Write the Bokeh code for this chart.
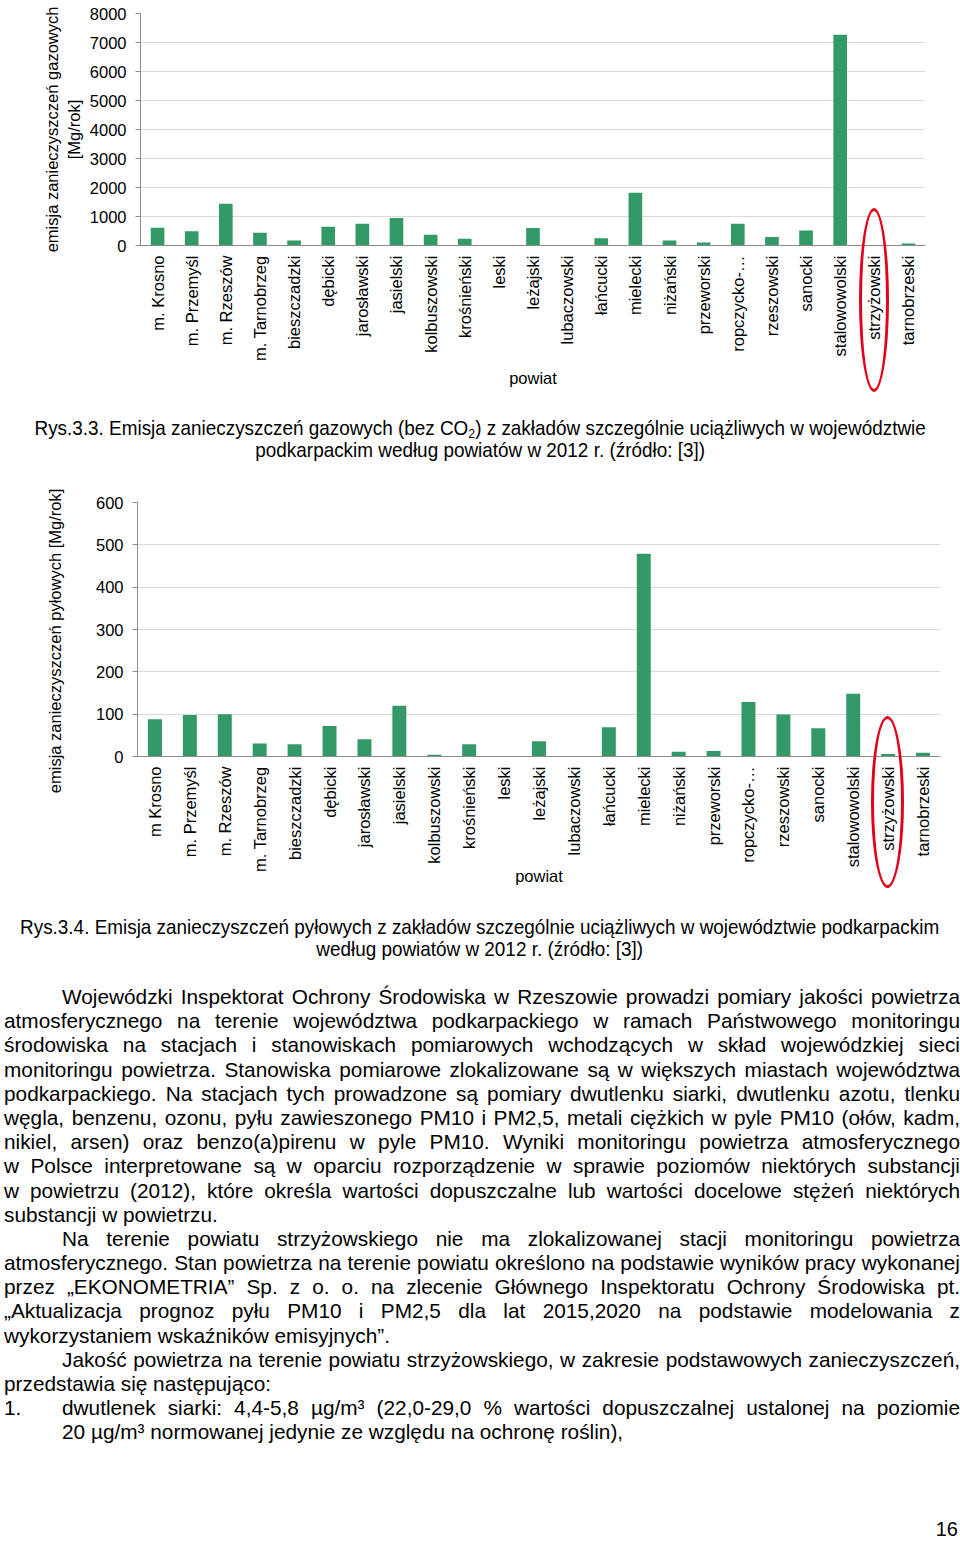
import numpy as np
from bokeh.plotting import figure
from bokeh.models import FactorRange, Range1d, SingleIntervalTicker, Div
from bokeh.layouts import column
from bokeh.embed import file_html
from bokeh.resources import INLINE

# ---------------- data ----------------
cats_gas = ["m. Krosno", "m. Przemyśl", "m. Rzeszów", "m. Tarnobrzeg", "bieszczadzki",
            "dębicki", "jarosławski", "jasielski", "kolbuszowski", "krośnieński",
            "leski", "leżajski", "lubaczowski", "łańcucki", "mielecki", "niżański",
            "przeworski", "ropczycko-…", "rzeszowski", "sanocki", "stalowowolski",
            "strzyżowski", "tarnobrzeski"]
gas_values = [610, 490, 1440, 440, 170, 650, 750, 950, 370, 230,
              0, 600, 8, 250, 1820, 170, 100, 750, 290, 520, 7270, 3, 70]

cats_dust = ["m Krosno", "m. Przemyśl", "m. Rzeszów", "m. Tarnobrzeg", "bieszczadzki",
             "dębicki", "jarosławski", "jasielski", "kolbuszowski", "krośnieński",
             "leski", "leżajski", "lubaczowski", "łańcucki", "mielecki", "niżański",
             "przeworski", "ropczycko-…", "rzeszowski", "sanocki", "stalowowolski",
             "strzyżowski", "tarnobrzeski"]
dust_values = [88, 98, 100, 31, 29, 72, 41, 120, 4, 29,
               0.5, 36, 0, 69, 479, 11, 13, 129, 99, 67, 148, 6, 9]

gas_tick = 1000
dust_tick = 100
highlight = "strzyżowski"

BAR = "#339966"
FONT = "Liberation Sans"
W = 960


def make_chart(cats, vals, ymax, tick, ylabel, h, mb_top, frame_h, mb_left, mb_right,
               ylab_standoff, xlab_standoff):
    p = figure(x_range=FactorRange(factors=cats), y_range=Range1d(0, ymax),
               width=W, height=h, output_backend="svg", toolbar_location=None,
               min_border_top=mb_top, min_border_bottom=h - mb_top - frame_h,
               min_border_left=mb_left, min_border_right=mb_right)
    p.frame_align = False
    p.vbar(x=cats, top=vals, width=0.4, color=BAR, line_color=None)
    p.outline_line_color = None
    p.xgrid.grid_line_color = None
    p.ygrid.grid_line_color = "#d9d9d9"
    p.ygrid.grid_line_width = 1
    p.yaxis.ticker = SingleIntervalTicker(interval=tick)
    for ax in (p.xaxis[0], p.yaxis[0]):
        ax.axis_line_color = "#8c8c8c"
        ax.axis_line_width = 1
        ax.major_label_text_font = FONT
        ax.major_label_text_font_size = "16.5px"
        ax.major_label_text_color = "black"
        ax.axis_label_text_font = FONT
        ax.axis_label_text_font_size = "16.5px"
        ax.axis_label_text_font_style = "normal"
        ax.axis_label_text_color = "black"
        ax.minor_tick_line_color = None
    p.yaxis.major_tick_line_color = "#8c8c8c"
    p.yaxis.major_tick_out = 5
    p.yaxis.major_tick_in = 0
    p.yaxis.major_label_standoff = 9
    p.yaxis.axis_label = ylabel
    p.yaxis.axis_label_standoff = ylab_standoff
    p.xaxis.major_tick_line_color = None
    p.xaxis.major_tick_out = 0
    p.xaxis.major_tick_in = 0
    p.xaxis.major_label_orientation = np.pi / 2
    p.xaxis.major_label_standoff = 10
    p.xaxis.axis_label = "powiat"
    p.xaxis.axis_label_standoff = xlab_standoff
    return p


# layout constants (px)
P1_H, P1_TOP, P1_FH, P1_L, P1_R = 400, 13, 232, 140, 35
CAP1_H = 61
P2_H, P2_TOP, P2_FH, P2_L, P2_R = 439, 41, 254, 137, 20

p1 = make_chart(cats_gas, gas_values, 8000, gas_tick,
                "emisja zanieczyszczeń gazowych\n[Mg/rok]",
                P1_H, P1_TOP, P1_FH, P1_L, P1_R, 4, 5)
p2 = make_chart(cats_dust, dust_values, 600, dust_tick,
                "emisja zanieczyszczeń pyłowych [Mg/rok]" + "\u00a0" * 5,
                P2_H, P2_TOP, P2_FH, P2_L, P2_R, 29, -8)


def ellipse_html(cats, left, right, frame_bottom_rel, up, down, w):
    """Red highlight ellipse (decoration) drawn over the chart above the Div."""
    i = cats.index(highlight)
    cx = left + (i + 0.5) * (W - left - right) / len(cats)
    return (f'<div style="position:absolute;left:{cx - w / 2:.1f}px;top:{frame_bottom_rel - up}px;'
            f'width:{w}px;height:{up + down}px;box-sizing:border-box;'
            f'border:3px solid #e2001a;border-radius:50%;pointer-events:none"></div>')


CAPF = ("font-family:'Liberation Sans',Arial,sans-serif;font-size:21px;line-height:22px;"
        "color:#000;")
SUB = '<span style="font-size:0.65em;vertical-align:-0.25em;line-height:0">2</span>'


def caption(pad, l1, l2):
    return (f'<div style="display:flex;justify-content:center;width:{W}px;padding-top:{pad}px">'
            f'<div style="{CAPF}flex:none;text-align:center;white-space:nowrap;'
            f'transform:scaleX(0.9);transform-origin:50% 50%">{l1}<br>{l2}</div></div>')


cap1_html = (caption(17,
                     f'Rys.3.3. Emisja zanieczyszczeń gazowych (bez CO{SUB}) z zakładów szczególnie '
                     f'uciążliwych w województwie',
                     'podkarpackim według powiatów w 2012 r. (źródło: [3])')
             + ellipse_html(cats_gas, P1_L, P1_R, -(P1_H - P1_TOP - P1_FH), 37, 147, 30))
cap1 = Div(text=cap1_html, width=W, height=CAP1_H, margin=0)

BODY = ("font-family:'Liberation Sans',Arial,sans-serif;font-size:20.8px;color:#000;"
        "height:24.2px;line-height:24.2px;white-space:nowrap;")
J = "text-align:justify;text-align-last:justify;"
L = "text-align:left;"
IND = "padding-left:58px;"

lines = [
    (J + IND, "Wojewódzki Inspektorat Ochrony Środowiska w Rzeszowie prowadzi pomiary jakości powietrza"),
    (J, "atmosferycznego na terenie województwa podkarpackiego w ramach Państwowego monitoringu"),
    (J, "środowiska na stacjach i stanowiskach pomiarowych wchodzących w skład wojewódzkiej sieci"),
    (J, "monitoringu powietrza. Stanowiska pomiarowe zlokalizowane są w większych miastach województwa"),
    (J, "podkarpackiego. Na stacjach tych prowadzone są pomiary dwutlenku siarki, dwutlenku azotu, tlenku"),
    (J, "węgla, benzenu, ozonu, pyłu zawieszonego PM10 i PM2,5, metali ciężkich w pyle PM10 (ołów, kadm,"),
    (J, "nikiel, arsen) oraz benzo(a)pirenu w pyle PM10. Wyniki monitoringu powietrza atmosferycznego"),
    (J, "w Polsce interpretowane są w oparciu rozporządzenie w sprawie poziomów niektórych substancji"),
    (J, "w powietrzu (2012), które określa wartości dopuszczalne lub wartości docelowe stężeń niektórych"),
    (L, "substancji w powietrzu."),
    (J + IND, "Na terenie powiatu strzyżowskiego nie ma zlokalizowanej stacji monitoringu powietrza"),
    (J, "atmosferycznego. Stan powietrza na terenie powiatu określono na podstawie wyników pracy wykonanej"),
    (J, "przez „EKONOMETRIA” Sp. z o. o. na zlecenie Głównego Inspektoratu Ochrony Środowiska pt."),
    (J, "„Aktualizacja prognoz pyłu PM10 i PM2,5 dla lat 2015,2020 na podstawie modelowania z"),
    (L, "wykorzystaniem wskaźników emisyjnych”."),
    (J + IND, "Jakość powietrza na terenie powiatu strzyżowskiego, w zakresie podstawowych zanieczyszczeń,"),
    (L, "przedstawia się następująco:"),
]
body = "".join(f'<div style="{BODY}{s}">{txt}</div>' for s, txt in lines)
body += (f'<div style="{BODY}display:flex;"><span style="flex:none;width:58px">1.</span>'
         f'<span style="flex:1;{J}">dwutlenek siarki: 4,4-5,8 µg/m³ (22,0-29,0 % wartości dopuszczalnej '
         f'ustalonej na poziomie</span></div>')
body += f'<div style="{BODY}{L}{IND}">20 µg/m³ normowanej jedynie ze względu na ochronę roślin),</div>'

REST_H = 1543 - P1_H - CAP1_H - P2_H
rest_html = (
    caption(16,
            'Rys.3.4. Emisja zanieczyszczeń pyłowych z zakładów szczególnie uciążliwych w województwie '
            'podkarpackim',
            'według powiatów w 2012 r. (źródło: [3])')
    + f'<div style="margin-left:4px;width:956px;margin-top:25px">{body}</div>'
    + f'<div style="position:absolute;left:0;top:{REST_H - 24}px;width:958px;text-align:right;'
      f'font-family:\'Liberation Sans\',sans-serif;font-size:20px;line-height:20px;color:#000">16</div>'
    + ellipse_html(cats_dust, P2_L, P2_R, -(P2_H - P2_TOP - P2_FH), 40, 132, 33)
)
rest = Div(text=rest_html, width=W, height=REST_H, margin=0)

layout = column(p1, cap1, p2, rest, spacing=0)
open("out.html", "w").write(file_html(layout, INLINE))
